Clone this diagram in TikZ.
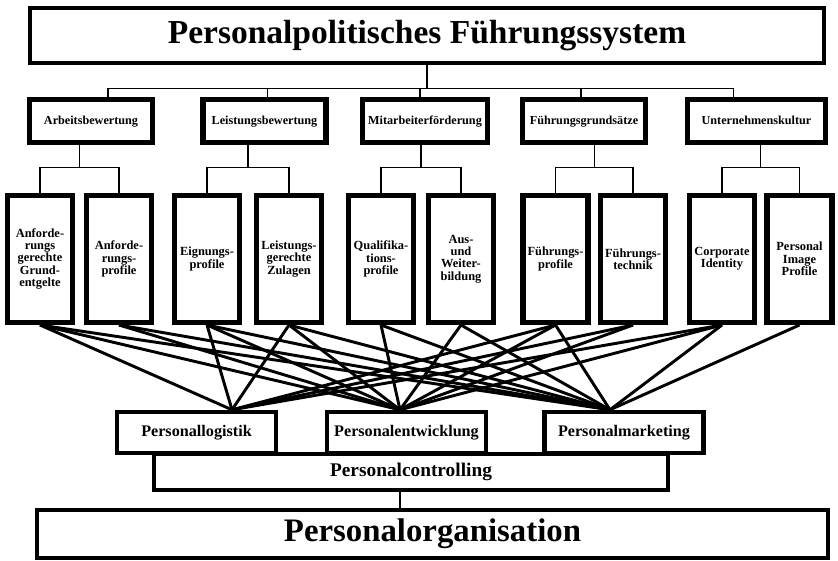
\documentclass[tikz,border=0pt]{standalone}
\usepackage{fontspec}
\setmainfont{Liberation Serif}
\usetikzlibrary{calc}

\begin{document}
\begin{tikzpicture}[
    headbox/.style={rectangle, draw, line width=3.6pt, minimum width=23.82cm, minimum height=1.65cm, font=\fontsize{28.6}{32}\selectfont\bfseries},
    area/.style={rectangle, draw, line width=4.3pt, minimum width=3.69cm, minimum height=1.29cm, text height=1.6ex, text depth=0.4ex, font=\fontsize{10.4}{12}\selectfont\bfseries},
    tool/.style={rectangle, draw, line width=4.3pt, minimum width=1.95cm, minimum height=3.81cm, inner sep=1pt, align=center, font=\fontsize{10.6}{10.6}\selectfont\bfseries},
    func/.style={rectangle, draw, line width=3.8pt, minimum width=4.77cm, minimum height=1.23cm, font=\fontsize{13.8}{16}\selectfont\bfseries},
    tree/.style={line width=0.9pt},
    link/.style={line width=2.5pt}
]
    \useasboundingbox (0,0) rectangle (25.14,16.83);

    % Top system box
    \node[headbox] (ps) at (12.81, 15.765) {Personalpolitisches Führungssystem};

    % Five policy areas
    \node[area] (ab) at (2.73, 13.2) {Arbeitsbewertung};
    \node[area] (lb) at (7.935, 13.2) {Leistungsbewertung};
    \node[area, minimum width=3.75cm] (mf) at (12.75, 13.2) {Mitarbeiterförderung};
    \node[area] (fg) at (17.52, 13.2) {Führungsgrundsätze};
    \node[area, minimum width=4.14cm] (uk) at (22.695, 13.2) {Unternehmenskultur};

    % Instruments below each area
    \node[tool] (a1) at (1.2, 9.06) {Anforde-\\rungs\\gerechte\\Grund-\\entgelte};
    \node[tool] (a2) at (3.57, 9.06) {Anforde-\\rungs-\\profile};
    \node[tool] (l1) at (6.21, 9.06) {Eignungs-\\profile};
    \node[tool] (l2) at (8.67, 9.06) {Leistungs-\\gerechte\\Zulagen};
    \node[tool] (m1) at (11.43, 9.06) {Qualifika-\\tions-\\profile};
    \node[tool] (m2) at (13.83, 9.06) {Aus-\\und\\Weiter-\\bildung};
    \node[tool] (f1) at (16.665, 9.06) {Führungs-\\profile};
    \node[tool] (f2) at (18.99, 9.06) {Führungs-\\technik};
    \node[tool] (u1) at (21.66, 9.06) {Corporate\\Identity};
    \node[tool] (u2) at (23.985, 9.06) {Personal\\Image\\Profile};

    % Controlling bar under the three functions
    \node[rectangle, draw, line width=3.8pt, minimum width=15.42cm, minimum height=1.08cm, font=\fontsize{16.5}{18}\selectfont\bfseries] (pc) at (12.33, 2.67) {Personalcontrolling};

    % Three personnel functions
    \node[func] (pl) at (5.895, 3.855) {Personallogistik};
    \node[func] (pe) at (12.195, 3.855) {Personalentwicklung};
    \node[func] (pm) at (18.72, 3.855) {Personalmarketing};

    % Organisation at the bottom
    \node[rectangle, draw, line width=3.6pt, minimum width=23.73cm, minimum height=1.44cm, font=\fontsize{28}{30}\selectfont\bfseries] (po) at (12.975, 0.81) {Personalorganisation};

    % Tree from the system box to the areas
    \draw[tree] (ps.south) -- ++(0,-0.69) coordinate (bus);
    \foreach \n/\dx in {ab/0.51, lb/0.1, mf/-0.15, fg/-0.09, uk/-0.7}
        \draw[tree] (bus) -| ([xshift=\dx cm]\n.north);

    % Tree from each area to its two instruments
    \foreach \p/\a/\b in {ab/a1/a2, lb/l1/l2, mf/m1/m2, fg/f1/f2, uk/u1/u2}{
        \coordinate (mid) at ($(\a.north)!0.5!(\b.north)$);
        \draw[tree] (\a.north) |- ([yshift=0.765cm]mid) -| (\b.north);
        \draw[tree] ([yshift=0.765cm]mid) -- (mid |- \p.south);
    }

    % Joints on top of the functions
    \coordinate (plin) at ([xshift=1.065cm]pl.north);
    \coordinate (pein) at ([xshift=-0.195cm]pe.north);
    \coordinate (pmin) at ([xshift=-0.42cm]pm.north);

    % Instruments to functions
    \foreach \t/\f in {a1/plin, a1/pein, a1/pmin, a2/pein, a2/pmin,
                       l1/plin, l1/pein, l1/pmin, l2/plin, l2/pein, l2/pmin,
                       m1/pein, m1/pmin, m2/pein, m2/pmin,
                       f1/plin, f1/pein, f1/pmin, f2/plin, f2/pein,
                       u1/plin, u1/pein, u1/pmin, u2/pmin}
        \draw[link] (\t.south) -- (\f);

    % Controlling to organisation
    \coordinate (pcout) at ([xshift=-0.33cm]pc.south);
    \draw[tree] (pcout) -- (pcout |- po.north);
\end{tikzpicture}
\end{document}
